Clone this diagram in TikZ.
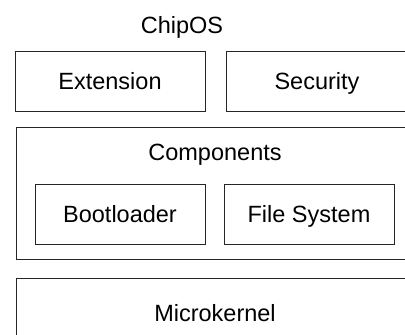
\documentclass[tikz,border=0pt]{standalone}
\usepackage{fontspec}
\setmainfont{Liberation Sans}
\begin{document}
\begin{tikzpicture}[x=1pt,y=-1pt,
  txt/.style={font=\fontsize{23.5}{28}\selectfont,text height=17pt,text depth=1pt},
  box/.style={txt,draw=black!85,line width=0.8pt,rectangle,inner sep=0pt,outer sep=0pt},
  lbl/.style={txt,inner sep=0pt}]
\useasboundingbox (0,0) rectangle (405,335);
\clip (0,0) rectangle (405,335);
\node[lbl] (chipos) at (182,25) {ChipOS};
\node[box,minimum width=190pt,minimum height=60pt] (ext) at (110,81) {Extension};
\node[box,minimum width=182pt,minimum height=60pt] (sec) at (317,81) {Security};
\node[box,minimum width=398pt,minimum height=132pt] (comp) at (215,193) {};
\node[lbl] (comptxt) at (215,152) {Components};
\node[box,minimum width=170pt,minimum height=60pt] (boot) at (120,214) {Bootloader};
\node[box,minimum width=170pt,minimum height=60pt] (fs) at (309,214) {File System};
\node[box,minimum width=398pt,minimum height=70pt] (micro) at (215,313) {Microkernel};
\end{tikzpicture}
\end{document}
